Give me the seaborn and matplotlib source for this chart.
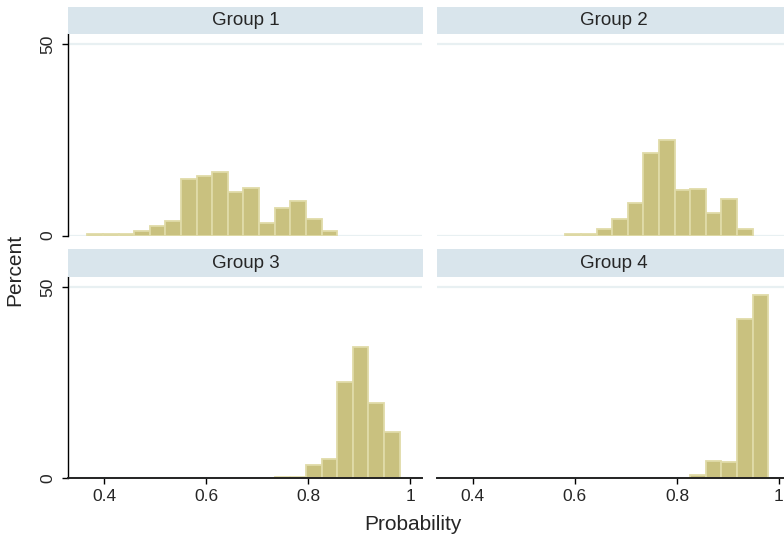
import numpy as np
import pandas as pd
import matplotlib
matplotlib.use("Agg")
import matplotlib.pyplot as plt
import seaborn as sns

# =====================
# 数据 (percent per bin)
# =====================
BIN_EDGES = [0.367, 0.3976, 0.4282, 0.4588, 0.4894, 0.52, 0.5506, 0.5812, 0.6118,
             0.6424, 0.673, 0.7036, 0.7342, 0.7648, 0.7954, 0.826, 0.8566, 0.8872,
             0.9178, 0.9484, 0.979]

GROUPS = ["Group 1", "Group 2", "Group 3", "Group 4"]

pct_g1 = [0.3, 0.4, 0.5, 1.1, 2.6, 3.9, 14.7, 15.6, 16.5, 11.5,
          12.5, 3.3, 7.3, 9.0, 4.4, 1.3, 0, 0, 0, 0]
pct_g2 = [0, 0, 0, 0, 0, 0, 0, 0.3, 0.3, 1.7,
          4.4, 8.5, 21.6, 25.0, 12.0, 12.1, 5.8, 9.6, 1.7, 0]
pct_g3 = [0, 0, 0, 0, 0, 0, 0, 0, 0, 0,
          0, 0, 0.2, 0.2, 3.2, 4.8, 25.1, 34.2, 19.5, 12.0]
pct_g4 = [0, 0, 0, 0, 0, 0, 0, 0, 0, 0,
          0, 0, 0, 0, 0, 0.7, 4.4, 4.2, 41.7, 47.8]

X_TICKS = [0.4, 0.6, 0.8, 1.0]
X_TICKLABELS = ["0.4", "0.6", "0.8", "1"]
Y_TICKS = [0, 50]

# =====================
# 样式
# =====================
BAR_FILL = "#c9c17f"
BAR_EDGE = "#e0dba8"
STRIP_COLOR = "#d9e5ec"
GRID_COLOR = "#e8f0f2"

sns.set_style("white")
plt.rcParams["font.family"] = ["Liberation Sans", "DejaVu Sans"]

W, H = 784, 540
fig = plt.figure(figsize=(W / 100, H / 100), dpi=100)


def px_axes(x0, x1, ytop, ybot):
    return fig.add_axes([x0 / W, (H - ybot) / H, (x1 - x0) / W, (ybot - ytop) / H])


# panel positions in pixels: (x0, x1, strip_top, plot_top, plot_bottom)
panels = [
    (68, 422, 7, 34, 235.5),
    (436.7, 790.7, 7, 34, 235.5),
    (68, 422, 249.3, 276.7, 477.7),
    (436.7, 790.7, 249.3, 276.7, 477.7),
]
all_pct = [pct_g1, pct_g2, pct_g3, pct_g4]
edges = np.array(BIN_EDGES)
centers = (edges[:-1] + edges[1:]) / 2

for i, (x0, x1, st, pt, pb) in enumerate(panels):
    ax = px_axes(x0, x1, pt, pb)
    df = pd.DataFrame({"prob": centers, "pct": all_pct[i]})
    sns.histplot(data=df, x="prob", weights="pct", bins=BIN_EDGES, stat="count",
                 color=BAR_FILL, edgecolor=BAR_EDGE, linewidth=1.3,
                 alpha=1, ax=ax, zorder=2)
    for p in list(ax.patches):
        if p.get_height() == 0:
            p.remove()

    ax.set_xlim(0.329, 1.023)
    ax.set_ylim(0, 52.7)
    for yv in Y_TICKS:
        ax.axhline(yv, color=GRID_COLOR, lw=1.6, zorder=1)
    ax.set_xlabel("")
    ax.set_ylabel("")

    left_col = i % 2 == 0
    bottom_row = i >= 2

    for s in ["top", "right"]:
        ax.spines[s].set_visible(False)
    ax.spines["left"].set_visible(left_col)
    ax.spines["left"].set_color("black")
    ax.spines["left"].set_linewidth(1.0)
    ax.spines["bottom"].set_visible(bottom_row)
    ax.spines["bottom"].set_color("#222222")
    ax.spines["bottom"].set_linewidth(1.4)
    ax.spines["bottom"].set_zorder(3)

    ax.set_yticks(Y_TICKS)
    if left_col:
        ax.set_yticklabels([str(v) for v in Y_TICKS], rotation=90, va="center",
                           fontsize=12.5)
        ax.tick_params(axis="y", left=True, length=4.3, width=1.0,
                       direction="out", pad=5, color="black")
    else:
        ax.tick_params(axis="y", left=False, labelleft=False)

    ax.set_xticks(X_TICKS)
    if bottom_row:
        ax.set_xticklabels(X_TICKLABELS, fontsize=12.5)
        ax.tick_params(axis="x", bottom=True, length=4.3, width=1.0,
                       direction="out", pad=4, color="black")
    else:
        ax.tick_params(axis="x", bottom=False, labelbottom=False)
    ax.grid(False)

    # 标题条
    sax = px_axes(x0, x1 + 1, st, pt)
    sax.set_facecolor(STRIP_COLOR)
    for s in sax.spines.values():
        s.set_visible(False)
    sax.set_xticks([])
    sax.set_yticks([])
    sax.text(0.5, 0.5, GROUPS[i], ha="center", va="center", fontsize=13.5,
             transform=sax.transAxes)

fig.text(15 / W, 1 - 270 / H, "Percent", rotation=90, ha="center", va="center",
         fontsize=15)
fig.text(413 / W, 1 - 524 / H, "Probability", ha="center", va="center",
         fontsize=15)

fig.savefig("out.png", dpi=100, facecolor="white")
